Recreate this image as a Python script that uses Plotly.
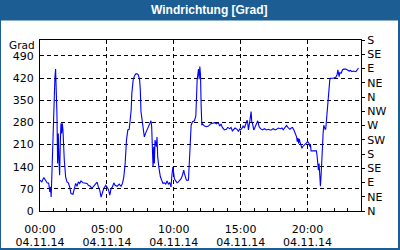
import plotly.graph_objects as go
import pandas as pd

# ---------------- data ----------------
title_text = "Windrichtung [Grad]"
y_unit = "Grad"
day = "2014-11-04"
minutes = [0, 8, 17, 23, 32, 39, 44, 47, 50, 53, 57, 60, 64, 67, 70, 73, 76, 79, 82, 85, 88, 91, 94, 97, 100,
           103, 106, 109, 115, 121, 127, 133, 139, 148, 154, 160, 166, 172, 178, 184, 193, 202, 211, 217, 226,
           232, 238, 247, 256, 262, 268, 274, 280, 286, 295, 301, 307, 313, 319, 325, 331, 337, 346, 355, 364,
           370, 376, 382, 385, 388, 394, 400, 403, 409, 412, 418, 424, 430, 436, 441, 447, 450, 453, 459, 465,
           468, 474, 480, 486, 492, 498, 501, 504, 507, 510, 513, 516, 522, 525, 528, 534, 540, 546, 552, 558,
           564, 570, 576, 582, 585, 588, 591, 596, 600, 603, 609, 615, 621, 627, 633, 639, 645, 648, 654, 657,
           666, 669, 672, 675, 678, 684, 693, 699, 702, 705, 711, 714, 717, 720, 723, 726, 729,
           738, 747, 756, 765, 774, 783, 791, 800, 806, 812, 818, 827, 836, 842, 851, 857, 863, 869, 875, 884,
           890, 896, 899, 905, 911, 917, 923, 929, 932, 935, 941, 944, 947, 950, 953, 959, 965, 971, 977, 983,
           989, 998, 1007, 1016, 1025, 1031, 1037, 1046, 1055, 1061, 1070, 1079, 1085, 1091, 1097, 1106, 1112,
           1121, 1127, 1133, 1139, 1145, 1151, 1154, 1157, 1160, 1163, 1166, 1169, 1175, 1178, 1184, 1189, 1195,
           1201, 1207, 1210, 1213, 1216, 1231, 1240, 1243, 1246, 1249, 1252, 1255, 1258, 1261, 1264, 1267, 1270,
           1273, 1276, 1279, 1282, 1285, 1288, 1291, 1294, 1297, 1300, 1303, 1315, 1327, 1333, 1336, 1342, 1345,
           1351, 1357, 1363, 1372, 1378, 1387, 1393, 1399, 1405, 1411, 1417, 1423, 1429]
direction_deg = [97, 92, 106, 99, 89, 88, 60, 76, 44, 108, 224, 308, 372, 424, 448, 403, 308, 150, 245, 160, 113, 213, 277, 245, 277,
                 255, 203, 160, 108, 92, 89, 76, 55, 53, 71, 87, 78, 92, 87, 95, 89, 87, 87, 81, 78,
                 71, 76, 84, 91, 76, 66, 44, 57, 71, 81, 76, 68, 50, 71, 76, 89, 81, 78, 85, 78,
                 87, 108, 150, 192, 224, 256, 258, 277, 319, 372, 414, 427, 433, 433, 430, 414, 382, 314, 277, 240,
                 234, 246, 256, 266, 277, 285, 266, 160, 139, 203, 150, 224, 203, 234, 171, 134, 108, 97, 87, 89,
                 85, 95, 85, 89, 78, 76, 108, 139, 118, 102, 95, 89, 92, 97, 102, 113, 129, 118, 102, 97,
                 97, 139, 203, 256, 271, 282, 285, 300, 382, 414, 448, 416, 456, 430, 330, 271, 275,
                 268, 266, 268, 275, 277, 279, 275, 279, 268, 275, 264, 256, 258, 264, 260, 264, 253, 258, 262, 258,
                 251, 260, 256, 260, 268, 262, 275, 287, 277, 256, 282, 298, 314, 282, 277, 256, 266, 275, 285, 266,
                 260, 256, 260, 256, 258, 256, 256, 260, 256, 258, 262, 260, 262, 256, 262, 270, 264,
                 258, 262, 264, 256, 247, 234, 219, 230, 213, 228, 219, 208, 198, 203, 208, 211, 216,
                 219, 213, 203, 211, 190, 190, 190, 173, 145, 129, 150, 92, 78, 113, 171, 213, 245,
                 271, 266, 258, 260, 287, 308, 356, 372, 403, 414, 419, 419, 422, 431, 446, 424, 437,
                 435, 446, 448, 448, 446, 442, 444, 440, 442, 440, 440, 446, 451]
left_ticks = [0, 70, 140, 210, 280, 350, 420, 490]
compass_vals = [0, 45, 90, 135, 180, 225, 270, 315, 360, 405, 450, 495, 540]
compass_text = ["N", "NE", "E", "SE", "S", "SW", "W", "NW", "N", "NE", "E", "SE", "S"]

# ---------------- figure ----------------
W, H = 400, 250
ML, MR, MT, MB = 40, 39, 40, 39
PW, PH = W - ML - MR, H - MT - MB
BLUE = "#1c5e94"
FONT = "DejaVu Sans"


def px_x(px):
    return (px - ML) / PW


def px_y(py):
    return (H - MB - py) / PH


t0 = pd.Timestamp(day)
t1 = t0 + pd.Timedelta(hours=24)
times = t0 + pd.to_timedelta(minutes, unit="m")

fig = go.Figure()
fig.add_trace(go.Scatter(x=times, y=direction_deg, mode="lines",
                         line=dict(color="#0000ff", width=1.1), showlegend=False))
# invisible trace on compass / date axes
fig.add_trace(go.Scatter(x=[times[0]], y=[0], xaxis="x2", yaxis="y2", mode="markers",
                         marker=dict(opacity=0), showlegend=False, hoverinfo="skip"))

axis_font = dict(family=FONT, size=11, color="black")
grid = dict(showgrid=True, gridcolor="black", gridwidth=1, griddash="4px,3px")

fig.update_layout(
    width=W, height=H, autosize=False,
    margin=dict(l=ML, r=MR, t=MT, b=MB, pad=0, autoexpand=False),
    paper_bgcolor="white", plot_bgcolor="white",
    font=axis_font,
    xaxis=dict(type="date", range=[t0, t1], automargin=False,
               dtick=5 * 3600000, tick0=t0, tickformat="%H:%M",
               ticks="inside", ticklen=3, tickcolor="black",
               minor=dict(dtick=3600000, ticks="inside", ticklen=3, tickcolor="black", showgrid=False),
               showline=True, linecolor="black", linewidth=1, mirror=True,
               zeroline=False, tickfont=axis_font, ticklabelstandoff=8, **grid),
    xaxis2=dict(type="date", range=[t0, t1], overlaying="x", side="bottom", anchor="y", automargin=False,
                dtick=5 * 3600000, tick0=t0, tickformat="%d.%m.%y", ticks="",
                showline=False, showgrid=False, zeroline=False,
                tickfont=axis_font, ticklabelstandoff=23),
    yaxis=dict(range=[0, 540], tickvals=left_ticks, ticks="", showline=True, linecolor="black",
               automargin=False,
               linewidth=1, zeroline=False, tickfont=axis_font, ticklabelstandoff=3, **grid),
    yaxis2=dict(range=[0, 540], overlaying="y", side="right", anchor="x", tickvals=compass_vals,
                automargin=False,
                ticktext=compass_text, ticks="outside", ticklen=3, tickcolor="black",
                showline=True, linecolor="black", linewidth=1, showgrid=False, zeroline=False,
                tickfont=axis_font, ticklabelstandoff=0),
    shapes=[
        dict(type="rect", xref="paper", yref="paper", x0=px_x(-2), x1=px_x(W + 2),
             y0=px_y(20.5), y1=px_y(-2), fillcolor=BLUE, line=dict(width=0), layer="below"),
        dict(type="rect", xref="paper", yref="paper", x0=px_x(0), x1=px_x(W - 1),
             y0=px_y(H - 1), y1=px_y(0), line=dict(color=BLUE, width=2), fillcolor="rgba(0,0,0,0)"),
    ],
    annotations=[
        dict(text="<b>" + title_text + "</b>", xref="paper", yref="paper", x=px_x(210), y=px_y(10.5),
             xanchor="center", yanchor="middle", showarrow=False,
             font=dict(family="Liberation Sans", size=12, color="white")),
        dict(text=y_unit, xref="paper", yref="paper", x=px_x(37), y=px_y(45),
             xanchor="right", yanchor="middle", showarrow=False,
             font=dict(family=FONT, size=10.5, color="black")),
    ],
)

fig.write_html("out.html")
